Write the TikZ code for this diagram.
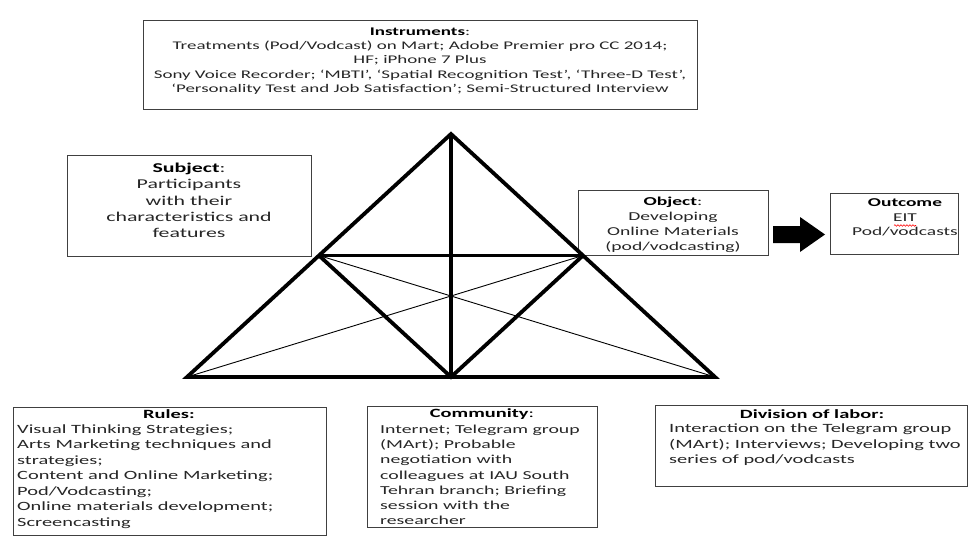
\documentclass[tikz,border=0pt]{standalone}
\usepackage{fontspec}
\setmainfont{Carlito}[FakeStretch=1.62]
\usetikzlibrary{decorations.pathmorphing}
\begin{document}
\begin{tikzpicture}[x=1pt,y=-1pt,
  box/.style={draw=black!75, line width=1.3pt, inner sep=0pt, anchor=north west},
  heavy/.style={line width=3.8pt, line join=miter},
  lightln/.style={line width=0.9pt},
  txt/.style={inner sep=0pt, text=black!85},
  head/.style={inner sep=0pt, text=black, font=\fontsize{12.6}{15.5}\selectfont\bfseries},
  body/.style={inner sep=0pt, text=black!85, align=left, anchor=west, font=\fontsize{12.6}{15.5}\selectfont}
]
\useasboundingbox (0,0) rectangle (969,536);

% boxes
\node[box, minimum width=554, minimum height=89] (instr) at (143,20) {};
\node[box, minimum width=244, minimum height=101] (subj) at (67,155) {};
\node[box, minimum width=190, minimum height=65] (obj) at (578,190) {};
\node[box, minimum width=128, minimum height=61] (outc) at (830,193) {};
\node[box, minimum width=313, minimum height=128] (rules) at (13,407) {};
\node[box, minimum width=230, minimum height=121] (comm) at (367,406) {};
\node[box, minimum width=312, minimum height=81] (divl) at (655,405) {};

% triangle
\coordinate (A) at (451,134);
\coordinate (BL) at (187,377);
\coordinate (BR) at (715,377);
\coordinate (BM) at (451,377);
\coordinate (LM) at (319,255.5);
\coordinate (RM) at (583,255.5);
\draw[heavy] (A) -- (BL) -- (BR) -- cycle;
\draw[heavy] (A) -- (BM);
\draw[heavy] (LM) -- (RM);
\draw[heavy] (LM) -- (BM) -- (RM);
\draw[lightln] (LM) -- (BR);
\draw[lightln] (RM) -- (BL);

% block arrow
\fill[black] (773,226) -- (800,226) -- (800,217) -- (825,234.5) -- (800,252) -- (800,243) -- (773,243) -- cycle;

% texts
\node[txt, align=center, font=\fontsize{11.7}{14.25}\selectfont] (instrt) at (420,61)
 {\textbf{\color{black}Instruments}:\\
  Treatments (Pod/Vodcast) on Mart; Adobe Premier pro CC 2014;\\
  HF; iPhone 7 Plus\\
  Sony Voice Recorder; ‘MBTI’, ‘Spatial Recognition Test’, ‘Three-D Test’,\\
  ‘Personality Test and Job Satisfaction’; Semi-Structured Interview};

\node[txt, align=center, font=\fontsize{13.5}{16.25}\selectfont] (subjt) at (189,200.5)
 {\textbf{\color{black}Subject}:\\ Participants\\ with their\\ characteristics and\\ features};

\node[txt, align=center, font=\fontsize{12.1}{15}\selectfont] (objt) at (673,224.5)
 {\textbf{\color{black}Object}:\\ Developing\\ Online Materials\\ (pod/vodcasting)};

\node[txt, align=center, font=\fontsize{12}{14.5}\selectfont] (outct) at (905,217.5)
 {\textbf{\color{black}Outcome}\\ EIT\\ Pod/vodcasts};
\draw[red, line width=0.6pt, decorate, decoration={snake, amplitude=0.8pt, segment length=3pt}] (894,225.5) -- (916,225.5);

\node[head] (rulesh) at (169,414) {Rules:};
\node[body] (rulest) at (17,476.5)
 {Visual Thinking Strategies;\\ Arts Marketing techniques and\\ strategies;\\ Content and Online Marketing;\\ Pod/Vodcasting;\\ Online materials development;\\ Screencasting};

\node[head] (commh) at (482,414) {Community\textmd{:}};
\node[body, font=\fontsize{12.2}{15.2}\selectfont] (commt) at (380,475)
 {Internet; Telegram group\\ (MArt); Probable\\ negotiation with\\ colleagues at IAU South\\ Tehran branch; Briefing\\ session with the\\ researcher};

\node[head] (divh) at (812,414) {Division of labor:};
\node[body] (divt) at (669,445)
 {Interaction on the Telegram group\\ (MArt); Interviews; Developing two\\ series of pod/vodcasts};
\end{tikzpicture}
\end{document}
